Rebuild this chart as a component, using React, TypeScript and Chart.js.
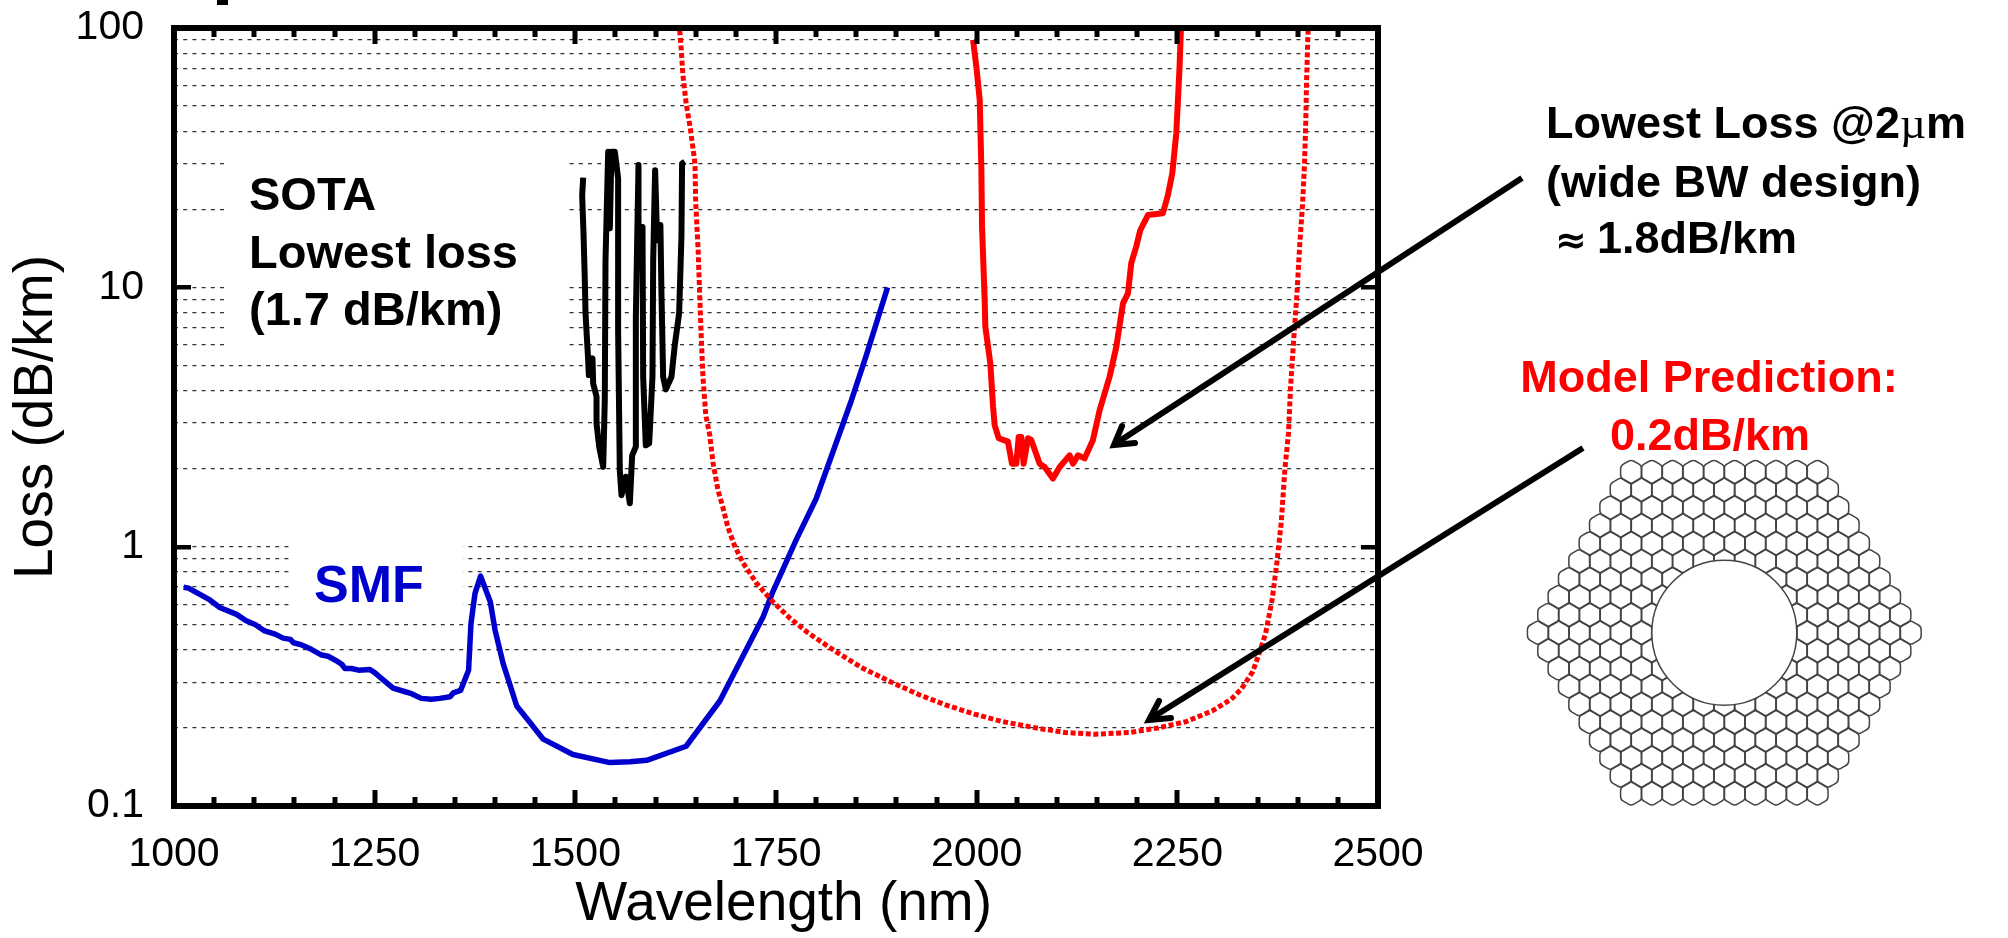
import React, { useEffect, useRef } from "react";
import { Chart, registerables } from "chart.js";

Chart.register(...registerables);

const xTickStep = 50;
const xLabelStep = 250;
const yTicks = [0.1,0.2,0.3,0.4,0.5,0.6,0.7,0.8,0.9,1,2,3,4,5,6,7,8,9,10,20,30,40,50,60,70,80,90,100];
const yLabels = [0.1, 1, 10, 100];

const smfX = [1012,1018,1030,1043,1057,1078,1090,1101,1113,1126,1136,1145,1149,1159,1171,1184,1192,1203,1209,1213,1221,1230,1244,1250,1261,1273,1286,1296,1308,1321,1331,1344,1348,1357,1367,1370,1375,1382,1394,1400,1410,1427,1443,1460,1497,1543,1568,1589,1638,1680,1734,1746,1775,1800,1844,1862,1889];
const smfY = [0.697,0.692,0.66,0.628,0.583,0.548,0.518,0.501,0.473,0.46,0.444,0.439,0.426,0.418,0.402,0.382,0.378,0.362,0.352,0.339,0.339,0.334,0.336,0.327,0.306,0.285,0.277,0.271,0.26,0.258,0.26,0.264,0.273,0.279,0.334,0.506,0.66,0.77,0.613,0.477,0.355,0.243,0.211,0.181,0.158,0.147,0.148,0.15,0.17,0.254,0.537,0.67,1.06,1.53,3.67,5.4,10];

const sotaX = [1509.8,1508.5,1510.2,1511.8,1512.7,1516,1516.8,1521.4,1522.2,1526.4,1526.4,1529.7,1534.7,1536.7,1537.6,1540.9,1543,1545,1549.2,1553.3,1553.3,1555.4,1557.5,1562.9,1567.9,1570.8,1575.4,1575.4,1578.7,1578.7,1583.7,1584.5,1587.8,1592,1596.1,1597,1599.4,1601.9,1606,1607.3,1609.4,1612.7,1619.8,1623.9,1629.3,1632.2,1633,1636.4];
const sotaY = [26.5,22.7,16.1,10.7,7.93,5.24,4.59,5.32,4.26,3.79,2.99,2.43,2.03,3.68,12.7,33.3,16.9,33.3,33.3,26.3,6.84,1.97,1.58,1.86,1.47,2.25,2.43,7.7,29.6,17.1,17.1,4.52,2.46,2.5,4.52,12.7,28.3,15.2,17.4,9.48,4.52,4.04,4.52,5.99,7.93,15.7,30,30.5];

const wideBwX = [1995.5,1999.6,2003.8,2005.8,2006.7,2010,2010.8,2017,2020.4,2022.4,2027.4,2039,2044,2049.4,2052.3,2055.6,2058.5,2063.9,2068,2078.5,2084.7,2095,2103.4,2115.8,2120,2126.2,2134.5,2144.9,2153.2,2165.6,2174,2182.3,2188.5,2192.6,2198.9,2203.8,2213.4,2232,2238.3,2243.7,2248.7,2252.8,2254.5];
const wideBwY = [89.9,71,52.8,29.2,17.1,8.93,7.05,5.09,3.47,2.94,2.62,2.54,2.09,2.09,2.65,2.65,2.09,2.62,2.58,2.09,2.03,1.83,2.03,2.25,2.09,2.25,2.19,2.58,3.36,4.52,5.9,8.67,9.48,12.4,14.4,16.6,19,19.3,22.7,27.5,39.3,71,100];

const modelX = [1630,1632,1634,1638,1643.5,1649,1650,1653,1655,1656.7,1659,1662.5,1667.5,1671.6,1677.8,1684,1690,1698.6,1709,1725.6,1744,1767,1790,1825,1858,1894,1929,1962,1997.5,2031,2076,2110,2147,2190.5,2226,2261,2294,2317,2329.6,2344,2352,2360,2368,2374,2379.5,2384,2388.5,2391,2395,2399,2402.5,2406,2408.5,2410,2411,2412.6,2413];
const modelY = [98,82.3,65.9,51.4,40.5,30.1,21.1,13.9,9.18,6.67,4.5,3.22,2.69,2.1,1.65,1.41,1.19,1.005,0.865,0.724,0.622,0.531,0.465,0.393,0.34,0.3,0.268,0.245,0.226,0.212,0.1995,0.192,0.189,0.192,0.2,0.2115,0.233,0.258,0.282,0.33,0.388,0.463,0.622,0.865,1.245,1.99,2.74,4.09,6.31,9.42,14.6,20.9,30.1,43.3,62,92.5,98];

const points = (xs: number[], ys: number[]) => xs.map((x, i) => ({ x, y: ys[i] }));

const FONT = '"Liberation Sans", Arial, sans-serif';
const BOLD = (s: number) => `bold ${s}px ${FONT}`;

function arrow(ctx: CanvasRenderingContext2D, from: number[], tip: number[], b1: number[], b2: number[]) {
  ctx.save();
  ctx.strokeStyle = "#000";
  ctx.lineWidth = 6;
  ctx.lineCap = "butt";
  ctx.beginPath();
  ctx.moveTo(from[0], from[1]);
  ctx.lineTo(tip[0] + 5, tip[1] - 3);
  ctx.stroke();
  ctx.lineCap = "round";
  ctx.lineJoin = "miter";
  ctx.beginPath();
  ctx.moveTo(b1[0], b1[1]);
  ctx.lineTo(tip[0] + 4, tip[1] - 2);
  ctx.lineTo(b2[0], b2[1]);
  ctx.stroke();
  ctx.restore();
}

function drawFiber(ctx: CanvasRenderingContext2D) {
  const cx = 1724.3, cy = 632.7, s = 20.7, rowH = 17.87, R = 12.2, coreR = 72.5;
  ctx.save();
  ctx.strokeStyle = "#444";
  ctx.lineWidth = 1.5;
  for (let r = -9; r <= 9; r++) {
    const n = 19 - Math.abs(r);
    for (let i = 0; i < n; i++) {
      const x = cx + (i - (n - 1) / 2) * s;
      const y = cy + r * rowH;
      const v: number[][] = [];
      for (let k = 0; k < 6; k++) {
        const a = Math.PI / 6 + (k * Math.PI) / 3;
        v.push([x + R * Math.cos(a), y + R * Math.sin(a)]);
      }
      ctx.beginPath();
      ctx.moveTo((v[0][0] + v[1][0]) / 2, (v[0][1] + v[1][1]) / 2);
      for (let k = 1; k <= 6; k++) {
        const p = v[k % 6], q = v[(k + 1) % 6];
        ctx.arcTo(p[0], p[1], q[0], q[1], 5.5);
      }
      ctx.closePath();
      ctx.stroke();
    }
  }
  ctx.fillStyle = "#fff";
  ctx.beginPath();
  ctx.arc(cx, cy, coreR, 0, Math.PI * 2);
  ctx.fill();
  ctx.stroke();
  ctx.restore();
}

const masks = {
  id: "masks",
  beforeDatasetsDraw(chart: any) {
    const ctx = chart.ctx;
    ctx.save();
    ctx.fillStyle = "#fff";
    ctx.fillRect(228, 150, 337, 205);
    ctx.fillRect(293, 540, 170, 70);
    ctx.restore();
  },
};

const frame = {
  id: "frame",
  afterDatasetsDraw(chart: any) {
    const { ctx, chartArea: a, scales } = chart;
    ctx.save();
    ctx.fillStyle = "#000";
    // inward ticks, positioned by the scales
    for (let v = 1000 + xTickStep; v < 2500; v += xTickStep) {
      const px = Math.round(scales.x.getPixelForValue(v));
      const len = v % xLabelStep === 0 ? 16 : 9;
      ctx.fillRect(px - 2.5, a.top, 5, len);
      ctx.fillRect(px - 2.5, a.bottom - len, 5, len);
    }
    for (const v of yLabels) {
      const py = Math.round(scales.y.getPixelForValue(v));
      ctx.fillRect(a.left, py - 2, 17, 4.5);
      ctx.fillRect(a.right - 17, py - 2, 17, 4.5);
    }
    ctx.lineWidth = 6;
    ctx.strokeStyle = "#000";
    ctx.strokeRect(a.left, a.top, a.right - a.left, a.bottom - a.top);

    // letter fragment cut off at the top of the picture
    ctx.fillRect(217, 0, 11, 5);

    ctx.textBaseline = "alphabetic";
    ctx.textAlign = "left";
    ctx.fillStyle = "#000";
    ctx.font = BOLD(47);
    ctx.fillText("SOTA", 249, 210);
    ctx.fillText("Lowest loss", 249, 268);
    ctx.fillText("(1.7 dB/km)", 249, 325);

    ctx.fillStyle = "#0000CC";
    ctx.font = BOLD(52);
    ctx.fillText("SMF", 314, 602);

    ctx.fillStyle = "#000";
    ctx.font = BOLD(45);
    const head = "Lowest Loss @2";
    const x0 = 1546;
    ctx.fillText(head, x0, 138);
    const w = ctx.measureText(head).width;
    ctx.font = `45px "Liberation Serif", serif`;
    ctx.fillText("\u00b5", x0 + w, 138);
    const w2 = ctx.measureText("\u00b5").width;
    ctx.font = BOLD(45);
    ctx.fillText("m", x0 + w + w2, 138);
    ctx.fillText("(wide BW design)", 1546, 197);
    ctx.fillText("1.8dB/km", 1597, 253);
    ctx.font = `bold 38px "DejaVu Sans", sans-serif`;
    ctx.fillText("\u2248", 1555, 253);

    ctx.fillStyle = "#FF0000";
    ctx.font = BOLD(45);
    ctx.textAlign = "center";
    ctx.fillText("Model Prediction:", 1709, 392);
    ctx.fillText("0.2dB/km", 1710, 450);

    arrow(ctx, [1522, 178], [1110, 447], [1122, 426], [1135, 443]);
    arrow(ctx, [1583, 448], [1145, 722], [1159, 701], [1171, 718]);
    drawFiber(ctx);
    ctx.restore();
  },
};

export default function App() {
  const ref = useRef<HTMLCanvasElement>(null);
  useEffect(() => {
    const chart = new Chart(ref.current!, {
      type: "scatter",
      data: {
        datasets: [
          { label: "SOTA", data: points(sotaX, sotaY), borderColor: "#000000", borderWidth: 6 },
          { label: "Wide BW", data: points(wideBwX, wideBwY), borderColor: "#FF0000", borderWidth: 6 },
          { label: "Model", data: points(modelX, modelY), borderColor: "#FF0000", borderWidth: 5, borderDash: [5, 2.6] },
          { label: "SMF", data: points(smfX, smfY), borderColor: "#0000CC", borderWidth: 5.5 },
        ].map((d) => ({ ...d, showLine: true, pointRadius: 0, tension: 0, borderJoinStyle: "round" as const })),
      },
      options: {
        animation: false,
        responsive: false,
        devicePixelRatio: 1,
        layout: { padding: { top: 28, right: 630, left: 0, bottom: 0 } },
        plugins: { legend: { display: false }, tooltip: { enabled: false }, title: { display: false } },
        scales: {
          x: {
            type: "linear",
            min: 1000,
            max: 2500,
            afterFit: (s: any) => { s.height = 132; s.paddingLeft = 0; s.paddingRight = 0; },
            grid: { display: false },
            border: { display: false },
            ticks: {
              stepSize: xTickStep,
              autoSkip: false,
              maxRotation: 0,
              padding: 16,
              color: "#000",
              font: { family: FONT, size: 41 },
              callback: (v: any) => (Number(v) % xLabelStep === 0 ? String(v) : ""),
            },
            title: { display: true, text: " Wavelength (nm)", color: "#000", font: { family: FONT, size: 55 }, padding: 0 },
          },
          y: {
            type: "logarithmic",
            min: 0.1,
            max: 100,
            afterBuildTicks: (s: any) => { s.ticks = yTicks.map((value) => ({ value })); },
            afterFit: (s: any) => { s.width = 174; s.paddingTop = 0; s.paddingBottom = 0; },
            grid: {
              drawTicks: false,
              lineWidth: 1.2,
              color: (c: any) => (c.tick && (c.tick.value === 0.1 || c.tick.value === 100) ? "rgba(0,0,0,0)" : "#333333"),
            },
            border: { display: false, dash: [4, 5.2] },
            ticks: {
              autoSkip: false,
              padding: 30,
              color: "#000",
              font: { family: FONT, size: 41 },
              callback: (v: any) => (yLabels.includes(Number(v)) ? String(v) : ""),
            },
            title: { display: true, text: "Loss (dB/km)", color: "#000", font: { family: FONT, size: 55 }, padding: { top: 4, bottom: 0 } },
          },
        },
      },
      plugins: [masks, frame],
    } as any);
    return () => chart.destroy();
  }, []);
  return <canvas ref={ref} width={2008} height={938} style={{ position: "absolute", left: 0, top: 0, display: "block" }} />;
}
